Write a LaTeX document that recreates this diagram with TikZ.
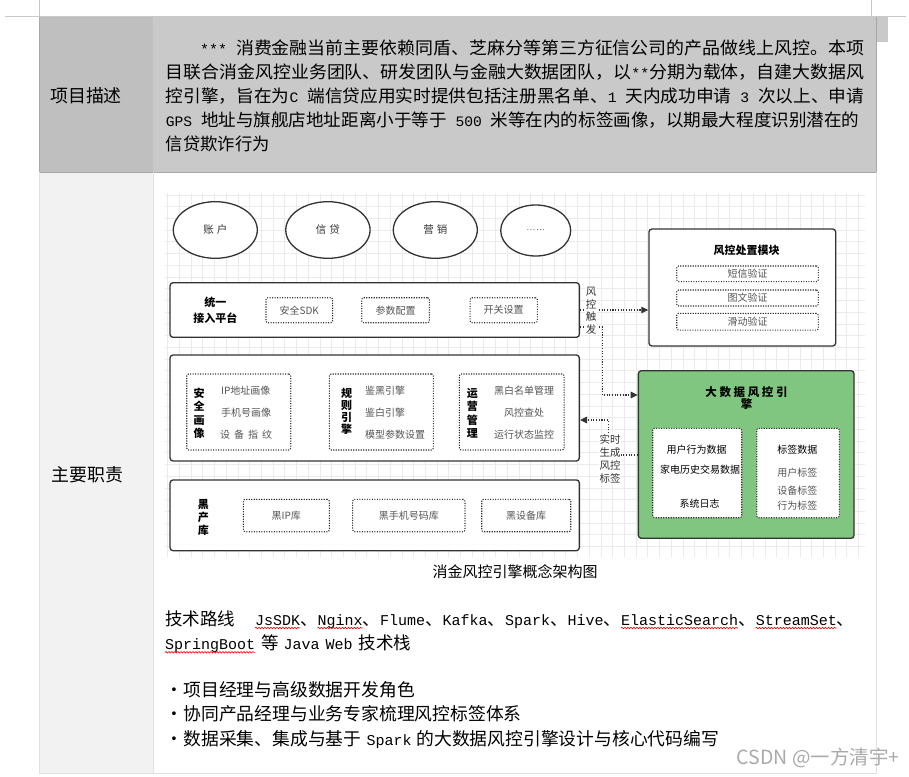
\documentclass[tikz,border=0pt]{standalone}
\usepackage{fontspec}
\usepackage{graphicx}
\usepackage{tikz}
\usetikzlibrary{shapes.geometric,arrows.meta,decorations.pathmorphing}
\newfontfamily\cjk{Noto Sans CJK SC}
\newfontfamily\monos{Liberation Mono}[Scale=0.8333]
\newfontfamily\monot{Liberation Mono}
\newcommand\fsz[1]{\fontsize{#1}{#1}\selectfont}
\newcommand\lat[1]{{\monos #1}}
\newcommand\techm[1]{{\monot\fsz{15}#1}}
\newcommand\jline[2]{\resizebox{#1}{\height}{#2}}
\definecolor{ink}{HTML}{333333}
\definecolor{txtgray}{HTML}{555555}
\definecolor{gridc}{HTML}{EBEBEB}
\definecolor{engine}{RGB}{128,198,128}
\definecolor{cellA}{RGB}{191,191,191}
\definecolor{cellB}{RGB}{201,201,201}
\definecolor{cellC}{RGB}{242,242,242}
\definecolor{rulec}{RGB}{200,200,200}
\definecolor{edgec}{RGB}{168,168,168}
\definecolor{lightc}{RGB}{224,224,224}
\definecolor{wmgray}{RGB}{170,170,170}

\begin{document}
\begin{tikzpicture}[x=1pt,y=-1pt,
    box/.style={draw=ink,line width=1.3pt,rounded corners=3pt,fill=white,inner sep=0pt},
    dotbox/.style={draw=ink,line width=1.1pt,dash pattern=on 1.1pt off 1.4pt,rounded corners=2pt,inner sep=0pt,text=txtgray,font=\cjk\fsz{10}},
    oval/.style={ellipse,draw=ink,line width=1.3pt,fill=white,inner sep=0pt,text=ink,font=\cjk\fsz{10.5}},
    vlab/.style={inner sep=0pt,align=center,text=black,font=\cjk\bfseries\fontsize{11}{13.3}\selectfont},
    item/.style={inner sep=0pt,text=txtgray,font=\cjk\fsz{10}},
    elab/.style={inner sep=0.6pt,fill=white,align=left,text=ink,font=\cjk\fontsize{10.5}{12.8}\selectfont},
    flow/.style={draw=ink,line width=1.1pt,dash pattern=on 1.1pt off 1.6pt,-{Triangle[length=7pt,width=6.5pt]}},
    gridline/.style={draw=gridc,line width=0.6pt},
    body/.style={inner sep=0pt,anchor=base west,text=black,font=\cjk\fsz{17.3}},
    wavy/.style={draw=red,line width=0.6pt,decorate,decoration={snake,amplitude=0.8pt,segment length=3pt}}]
    \useasboundingbox (0,0) rectangle (909,776);
    \fill[white] (0,0) rectangle (909,776);
    \fill[cellA] (39.3,16.7) rectangle (153.3,172.3);
    \fill[cellB] (153.3,16.7) rectangle (876.7,172.3);
    \fill[cellB] (876.7,17) rectangle (887.7,41.7);
    \fill[cellC] (39.3,172.3) rectangle (153.3,773.5);
    \draw[rulec,line width=0.8pt] (5,16) -- (906,16);
    \draw[rulec,line width=0.8pt] (39.3,0) -- (39.3,16);
    \draw[rulec,line width=0.8pt] (871.7,0) -- (871.7,16);
    \draw[edgec,line width=0.8pt] (39.3,16.7) -- (39.3,172.3) -- (876.7,172.3) -- (876.7,16.7);
    \draw[lightc,line width=0.8pt] (39.3,172.3) -- (39.3,773.5) -- (876.5,773.5) -- (876.5,172.3);
    \draw[lightc,line width=0.8pt] (153.3,172.3) -- (153.3,773.5);

    \node[body,font=\cjk\fsz{17.9}] (descH) at (50,102.8) {项目描述};
    \node[body] (desc1) at (200,55) {\jline{664pt}{\lat{*** }消费金融当前主要依赖同盾、芝麻分等第三方征信公司的产品做线上风控。本项}};
    \node[body] (desc2) at (165.7,78.75) {\jline{698.3pt}{目联合消金风控业务团队、研发团队与金融大数据团队，以\lat{**}分期为载体，自建大数据风}};
    \node[body] (desc3) at (165.7,102.5) {\jline{698.3pt}{控引擎，旨在为\lat{C }端信贷应用实时提供包括注册黑名单、\lat{1 }天内成功申请\lat{ 3 }次以上、申请}};
    \node[body] (desc4) at (165.7,126.25) {\jline{693.5pt}{\lat{GPS }地址与旗舰店地址距离小于等于\lat{ 500 }米等在内的标签画像，以期最大程度识别潜在的}};
    \node[body] (desc5) at (165.7,150) {信贷欺诈行为};
    \node[body,font=\cjk\fsz{17.9}] (dutyH) at (51.7,481) {主要职责};

    \foreach \gx in {0,...,59} \draw[gridline] ({167.6+11.71*\gx},193) -- ++(0,364);
    \foreach \gy in {0,...,30} \draw[gridline] (165,{194.9+11.72*\gy}) -- ++(700,0);

    \node[oval,minimum width=84pt,minimum height=56.6pt] (acct) at (215.3,230) {账\hspace{3pt}户};
    \node[oval,minimum width=84.3pt,minimum height=56.6pt] (loan) at (327.9,230) {信\hspace{3pt}贷};
    \node[oval,minimum width=84pt,minimum height=56.6pt] (mkt) at (435.3,230) {营\hspace{3pt}销};
    \node[oval,minimum width=70pt,minimum height=51pt,text=txtgray,font=\cjk\fsz{8}] (etc) at (535.7,230.5) {…\,…};

    \node[box,minimum width=409.3pt,minimum height=54.6pt] (access) at (374.7,310) {};
    \node[vlab,font=\cjk\bfseries\fontsize{11}{16}\selectfont] (accessT) at (215.3,310) {统一\\接入平台};
    \node[dotbox,minimum width=66.7pt,minimum height=25pt] (sdk) at (299.3,310.2) {安全SDK};
    \node[dotbox,minimum width=67.6pt,minimum height=25pt] (param) at (395.5,310.2) {参数配置};
    \node[dotbox,minimum width=67.3pt,minimum height=25pt] (toggle) at (503.7,310.2) {开关设置};

    \node[box,minimum width=409.3pt,minimum height=106pt] (core) at (374.7,408) {};
    \node[dotbox,minimum width=104pt,minimum height=76pt] (portrait) at (238.7,412) {};
    \node[dotbox,minimum width=104pt,minimum height=76pt] (rules) at (381.3,412) {};
    \node[dotbox,minimum width=104.7pt,minimum height=76pt] (ops) at (511.7,412) {};
    \node[vlab] (portraitT) at (199,413.3) {安\\全\\画\\像};
    \node[vlab,font=\cjk\bfseries\fontsize{11}{12}\selectfont] (rulesT) at (346.7,411.3) {规\\则\\引\\擎};
    \node[vlab] (opsT) at (472.3,413.3) {运\\营\\管\\理};
    \node[item,anchor=west] (ipP) at (221,390.7) {IP地址画像};
    \node[item,anchor=west] (telP) at (221,412.7) {手机号画像};
    \node[item,anchor=west] (devP) at (220,435) {设\hspace{4pt}备\hspace{4pt}指\hspace{4pt}纹};
    \node[item,anchor=west] (blackE) at (365,390.7) {鉴黑引擎};
    \node[item,anchor=west] (whiteE) at (365,412.7) {鉴白引擎};
    \node[item,anchor=west] (modelE) at (365,435) {模型参数设置};
    \node[item] (listM) at (524,390.7) {黑白名单管理};
    \node[item] (checkM) at (524,412.7) {风控查处};
    \node[item] (runM) at (524,435) {运行状态监控};

    \node[box,minimum width=409.3pt,minimum height=70.7pt] (blib) at (374.7,515.3) {};
    \node[vlab,font=\cjk\bfseries\fontsize{11}{13}\selectfont] (blibT) at (203.3,517) {黑\\产\\库};
    \node[dotbox,minimum width=86pt,minimum height=32.4pt] (bip) at (286.3,515.5) {黑IP库};
    \node[dotbox,minimum width=112.3pt,minimum height=32.4pt] (bphone) at (408.8,515.5) {黑手机号码库};
    \node[dotbox,minimum width=89pt,minimum height=32.4pt] (bdev) at (526.2,515.5) {黑设备库};

    \node[box,minimum width=186.7pt,minimum height=117pt] (dispose) at (742.3,287.5) {};
    \node[inner sep=0pt,font=\cjk\bfseries\fsz{11}] (disposeT) at (746.7,250.7) {风控处置模块};
    \node[dotbox,minimum width=141.6pt,minimum height=15.7pt] (sms) at (747.5,273.8) {短信验证};
    \node[dotbox,minimum width=141.6pt,minimum height=16pt] (captcha) at (747.5,298) {图文验证};
    \node[dotbox,minimum width=141.6pt,minimum height=16.7pt] (slide) at (747.5,321.7) {滑动验证};

    \node[box,fill=engine,minimum width=215.7pt,minimum height=167.6pt] (engine) at (746.2,454.5) {};
    \node[vlab,font=\cjk\bfseries\fontsize{11.5}{12}\selectfont] (engineT) at (746.5,397.7) {大 数 据 风 控 引\\擎};
    \node[dotbox,fill=white,minimum width=89pt,minimum height=89.4pt] (src) at (697.2,473) {};
    \node[dotbox,fill=white,minimum width=82.6pt,minimum height=89.4pt] (tags) at (798,473) {};
    \node[item,text=black] (behav) at (696.7,450) {用户行为数据};
    \node[item,text=black] (trade) at (700,470) {家电历史交易数据};
    \node[item,text=black] (syslog) at (699.7,503.3) {系统日志};
    \node[item,text=black] (tagT) at (797.3,450) {标签数据};
    \node[item] (userTag) at (797.3,472.3) {用户标签};
    \node[item] (devTag) at (797.3,490.7) {设备标签};
    \node[item] (actTag) at (797.3,506) {行为标签};

    \coordinate (t1) at (602.3,327);
    \coordinate (t2) at (602.3,395);
    \coordinate (r1) at (608.3,455);
    \coordinate (r2) at (608.3,420);
    \draw[flow] (access.east) -- (access.east -| dispose.west);
    \draw[flow] (access.east |- t1) -- (t1) -- (t2) -- (engine.west |- t2);
    \draw[flow] (engine.west |- r1) -- (r1) -- (r2) -- (core.east |- r2);
    \node[elab,align=center] (trigL) at (591,310.8) {风\\控\\触\\发};
    \node[elab] (tagL) at (610,459) {实时\\生成\\风控\\标签};

    \node[inner sep=0pt,anchor=base,font=\cjk\fsz{15}] (caption) at (515,577.4) {消金风控引擎概念架构图};

    \node[body,font=\cjk\fsz{17.5}] (tech) at (165,625) {技术路线\hspace{20pt}\techm{JsSDK}、\techm{Nginx}、\techm{Flume}、\techm{Kafka}、\techm{Spark}、\techm{Hive}、\techm{ElasticSearch}、\techm{StreamSet}、};
    \node[body,font=\cjk\fsz{17.5}] (stack) at (165,649.3) {\techm{SpringBoot}\hspace{6pt}等\hspace{5pt}\techm{Java}\hspace{6pt}\techm{Web}\hspace{6pt}技术栈};
    \draw[wavy] (255,628) -- (300,628);
    \draw[wavy] (317.5,628) -- (362.5,628);
    \draw[wavy] (621,628) -- (738,628);
    \draw[wavy] (755.5,628) -- (836.5,628);
    \draw[wavy] (165,652.3) -- (255,652.3);

    \node[body,anchor=base,font=\cjk\fsz{17.8}] (dot1) at (174.5,696.8) {•};
    \node[body,anchor=base,font=\cjk\fsz{17.8}] (dot2) at (174.5,720.8) {•};
    \node[body,anchor=base,font=\cjk\fsz{17.8}] (dot3) at (174.5,745.1) {•};
    \node[body,font=\cjk\fsz{17.8}] (duty1) at (183.3,696.8) {项目经理与高级数据开发角色};
    \node[body,font=\cjk\fsz{17.8}] (duty2) at (183.3,720.8) {协同产品经理与业务专家梳理风控标签体系};
    \node[body,font=\cjk\fsz{17.8}] (duty3) at (183.3,745.1) {数据采集、集成与基于\hspace{5pt}\techm{Spark}\hspace{5pt}的大数据风控引擎设计与核心代码编写};

    \node[body,text=wmgray,font=\cjk\fsz{19.5}] (mark) at (736.7,764) {CSDN @一方清宇+};
\end{tikzpicture}
\end{document}
